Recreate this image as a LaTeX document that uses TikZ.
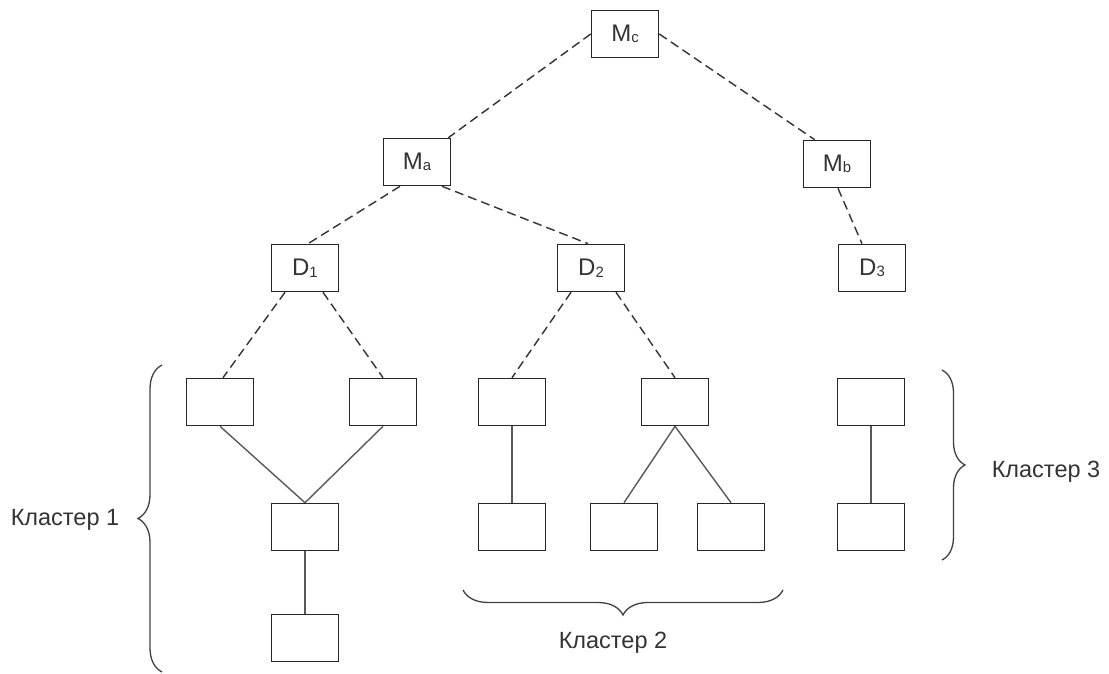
\documentclass[tikz,border=0pt]{standalone}
\usepackage{fontspec}
\setmainfont{Liberation Sans}
\usetikzlibrary{calc,decorations.pathreplacing}
\newcommand\lblsub[2]{#1\raisebox{-1.5pt}{\fontsize{15}{15}\selectfont #2}}
\begin{document}
\begin{tikzpicture}[x=1pt,y=1pt,
  box/.style={draw=black!85, line width=1.6pt, minimum width=67pt, minimum height=47pt,
    inner sep=0pt, text=black!80, font=\fontsize{24}{24}\selectfont},
  dashlink/.style={draw=black!80, line width=1.4pt, dash pattern=on 9pt off 5pt},
  link/.style={draw=black!65, line width=1.4pt},
  bracestyle/.style={draw=black!75, line width=1.3pt, decorate},
  lab/.style={text=black!80, font=\fontsize{23.5}{24}\selectfont, anchor=base, inner sep=0pt}]
\useasboundingbox (0,0) rectangle (1109,673);
% labelled nodes
\node[box] (Mc) at (625,639) {\lblsub{M}{c}};
\node[box] (Ma) at (417,511) {\lblsub{M}{a}};
\node[box] (Mb) at (837,509) {\lblsub{M}{b}};
\node[box] (D1) at (305,405) {\lblsub{D}{1}};
\node[box] (D2) at (591,405) {\lblsub{D}{2}};
\node[box] (D3) at (872,405) {\lblsub{D}{3}};
% empty boxes
\node[box] (b1) at (220,271) {};
\node[box] (b2) at (383,271) {};
\node[box] (b3) at (512,271) {};
\node[box] (b4) at (675,271) {};
\node[box] (b5) at (871,271) {};
\node[box] (b6) at (305,146) {};
\node[box] (b7) at (512,146) {};
\node[box] (b8) at (624,146) {};
\node[box] (b9) at (731,146) {};
\node[box] (b10) at (871,146) {};
\node[box] (b11) at (305,35) {};
% dashed links
\draw[dashlink] (Mc.west) -- ($(Ma.north east)+(-3,0)$);
\draw[dashlink] (Mc.east) -- ($(Mb.north west)+(12,0)$);
\draw[dashlink] ($(Mb.south)+(1,0)$) -- ($(D3.north)+(-10,0)$);
\draw[dashlink] ($(Ma.south)+(-17,0)$) -- ($(D1.north)+(3,0)$);
\draw[dashlink] ($(Ma.south)+(25,0)$) -- ($(D2.north)+(-3,0)$);
\draw[dashlink] ($(D1.south)+(-20,0)$) -- ($(b1.north)+(3,0)$);
\draw[dashlink] ($(D1.south)+(18,0)$) -- (b2.north);
\draw[dashlink] ($(D2.south)+(-20,0)$) -- (b3.north);
\draw[dashlink] ($(D2.south)+(25,0)$) -- (b4.north);
% solid links
\draw[link] (b1.south) -- (b6.north);
\draw[link] (b2.south) -- (b6.north);
\draw[link] (b6.south) -- (b11.north);
\draw[link] (b3.south) -- (b7.north);
\draw[link] (b4.south) -- (b8.north);
\draw[link] (b4.south) -- (b9.north);
\draw[link] (b5.south) -- (b10.north);
% braces
\coordinate (br1a) at (162,1);
\coordinate (br1b) at (162,308);
\coordinate (br2a) at (783,83);
\coordinate (br2b) at (463,83);
\coordinate (br3a) at (942,303);
\coordinate (br3b) at (942,113);
\draw[bracestyle, decoration={brace, amplitude=24pt}] (br1a) -- (br1b);
\draw[bracestyle, decoration={brace, amplitude=25pt}] (br2a) -- (br2b);
\draw[bracestyle, decoration={brace, amplitude=23pt}] (br3a) -- (br3b);
% labels
\node[lab] (k1) at (65,148) {Кластер 1};
\node[lab] (k2) at (613,25) {Кластер 2};
\node[lab] (k3) at (1046,196) {Кластер 3};
\end{tikzpicture}
\end{document}
